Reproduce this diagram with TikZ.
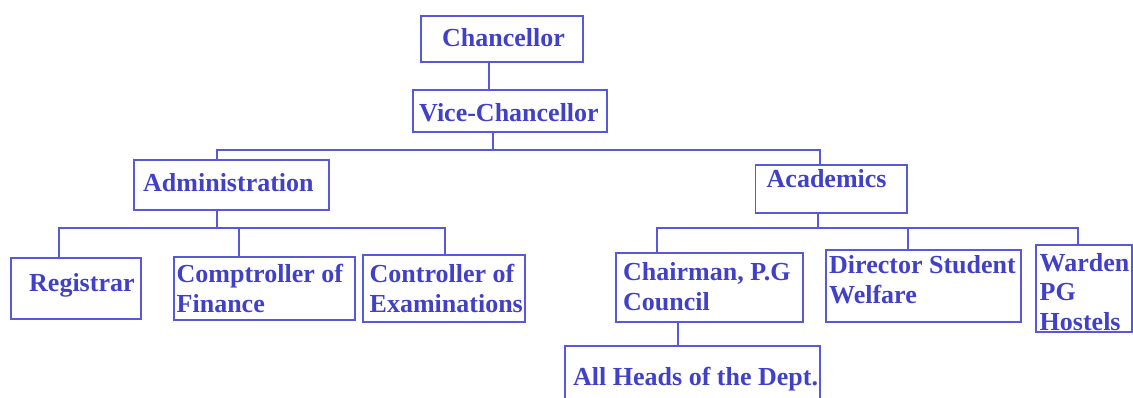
\documentclass[tikz,border=0pt]{standalone}
\usepackage{fontspec}
\setmainfont{Liberation Serif}
\definecolor{txt}{RGB}{64,64,200}
\definecolor{ln}{RGB}{88,88,218}
\begin{document}
\begin{tikzpicture}[x=1pt,y=-1pt,
  bx/.style 2 args={draw=ln, line width=1.2pt, rectangle, inner sep=0pt,
    minimum width=#1pt, minimum height=#2pt},
  conn/.style={draw=ln, line width=1.2pt},
  tx/.style={text=txt, font=\bfseries\fontsize{26}{29.5}\selectfont,
    inner sep=0pt, anchor=base west, align=left}]
\useasboundingbox (0,0) rectangle (1133,397);
\clip (0,0) rectangle (1133,397);
% boxes
\node[bx={162}{46}] (chan) at (502,39) {};
\node[bx={194}{42}] (vc) at (510,111) {};
\node[bx={195}{50}] (adm) at (231.5,185) {};
\node[bx={151.5}{48}] (acad) at (831.25,189) {};
\node[bx={130}{61}] (reg) at (76,288.5) {};
\node[bx={181}{63}] (comp) at (264.5,288.5) {};
\node[bx={162}{67}] (ctrl) at (444,288.5) {};
\node[bx={187}{69}] (chair) at (709.5,287.5) {};
\node[bx={195}{72}] (dir) at (923.5,286) {};
\node[bx={96}{87}] (ward) at (1084,288.5) {};
\node[bx={255}{64}] (heads) at (692.5,378) {};
% texts (base anchor = baseline of the last line)
\node[tx] (chanT) at (442,46) {Chancellor};
\node[tx] (vcT) at (419,121) {Vice-Chancellor};
\node[tx] (admT) at (143,191) {Administration};
\node[tx] (acadT) at (766.5,187) {Academics};
\node[tx] (regT) at (29,291) {Registrar};
\node[tx] (compT) at (176.5,312) {Comptroller of\\Finance};
\node[tx] (ctrlT) at (369.5,312) {Controller of\\Examinations};
\node[tx] (chairT) at (623,310) {Chairman, P.G\\Council};
\node[tx] (dirT) at (829,303) {Director Student\\Welfare};
\node[tx] (wardT) at (1039.5,330) {Warden\\PG\\Hostels};
\node[tx] (headsT) at (573,385) {All Heads of the Dept.};
% connectors
\coordinate (cv) at (489,0);
\draw[conn] (chan.south -| cv) -- (vc.north -| cv);
\coordinate (mV) at (493,150);
\coordinate (mL) at (217,150);
\coordinate (mR) at (820,150);
\draw[conn] (vc.south -| mV) -- (mV);
\draw[conn] (adm.north -| mL) -- (mL) -- (mR) -- (acad.north -| mR);
\coordinate (lA) at (217,228);
\coordinate (lL) at (59,228);
\coordinate (lM) at (239,228);
\coordinate (lR) at (445,228);
\draw[conn] (adm.south -| lA) -- (lA);
\draw[conn] (reg.north -| lL) -- (lL) -- (lR) -- (ctrl.north -| lR);
\draw[conn] (lM) -- (comp.north -| lM);
\coordinate (rA) at (818,228);
\coordinate (rL) at (657,228);
\coordinate (rM) at (908,228);
\coordinate (rR) at (1078,228);
\draw[conn] (acad.south -| rA) -- (rA);
\draw[conn] (chair.north -| rL) -- (rL) -- (rR) -- (ward.north -| rR);
\draw[conn] (rM) -- (dir.north -| rM);
\coordinate (hv) at (678,0);
\draw[conn] (chair.south -| hv) -- (heads.north -| hv);
\end{tikzpicture}
\end{document}
